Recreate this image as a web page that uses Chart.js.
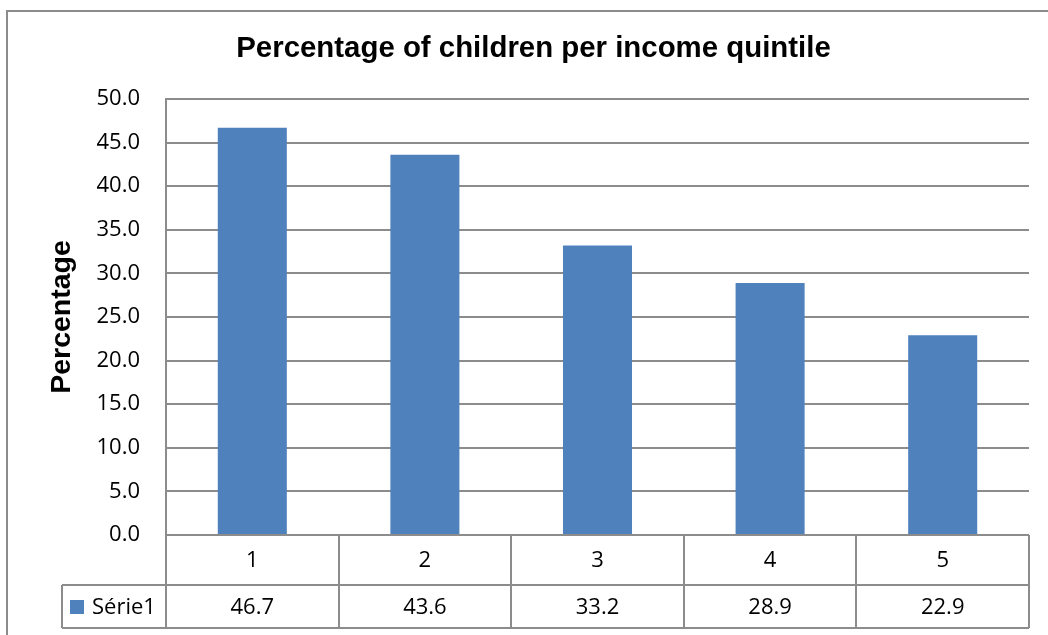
<!DOCTYPE html>
<html>
<head>
<meta charset="utf-8">
<script src="https://cdn.jsdelivr.net/npm/chart.js@4"></script>
<style>
  html,body{margin:0;padding:0;background:#fff;}
  #wrap{width:1048px;height:635px;position:relative;}
</style>
</head>
<body>
<div id="wrap"><canvas id="ch_quintil"></canvas></div>
<script>
// datos
const categorias = ['1','2','3','4','5'];
const serieNombre = 'Série1';
const valores = [46.7, 43.6, 33.2, 28.9, 22.9];
const yMin = 0, yMax = 50, yPaso = 5;

const titulo = 'Percentage of children per income quintile';
const tituloY = 'Percentage';

const AZUL = '#4F81BD';
const GRIS = '#8c8c8c';
const FUENTE_TXT = '"Open Sans", "Noto Sans", sans-serif';
const FUENTE_TIT = '"Liberation Sans", Arial, sans-serif';

// tabla de datos bajo el grafico + marco exterior
const tablaDatos = {
  id:'tablaDatos',
  afterDraw(chart){
    const { ctx, chartArea:a, scales:{x} } = chart;
    const fila1 = a.bottom, fila2 = 585, fin = 628, leyX = 62;
    const bordes = [a.left];
    for (let i=0;i<categorias.length-1;i++) bordes.push((x.getPixelForValue(i)+x.getPixelForValue(i+1))/2);
    bordes.push(a.right);

    ctx.save();
    ctx.strokeStyle = GRIS; ctx.lineWidth = 2;
    ctx.beginPath();
    ctx.moveTo(a.left,fila1); ctx.lineTo(a.right,fila1);
    ctx.moveTo(leyX,fila2); ctx.lineTo(a.right,fila2);
    ctx.moveTo(leyX,fin); ctx.lineTo(a.right,fin);
    bordes.forEach(b => { ctx.moveTo(Math.round(b),fila1); ctx.lineTo(Math.round(b),fin); });
    ctx.moveTo(leyX,fila2); ctx.lineTo(leyX,fin);
    // marco exterior
    ctx.moveTo(7,700); ctx.lineTo(7,11); ctx.lineTo(1100,11);
    ctx.stroke();

    ctx.fillStyle = '#000';
    ctx.font = '22px ' + FUENTE_TXT;
    ctx.textAlign = 'center'; ctx.textBaseline = 'middle';
    categorias.forEach((c,i) => ctx.fillText(c, x.getPixelForValue(i), (fila1+fila2)/2 + 1));
    valores.forEach((v,i) => ctx.fillText(v.toFixed(1), x.getPixelForValue(i), (fila2+fin)/2 + 1));

    ctx.fillStyle = AZUL;
    ctx.fillRect(70, 600, 14, 14);
    ctx.fillStyle = '#000';
    ctx.textAlign = 'left';
    ctx.fillText(serieNombre, 92, (fila2+fin)/2 + 1);
    ctx.restore();
  }
};

new Chart(document.getElementById('ch_quintil'), {
  type:'bar',
  data:{ labels:categorias, datasets:[{ label:serieNombre, data:valores, backgroundColor:AZUL, barPercentage:0.4, categoryPercentage:1 }] },
  options:{
    responsive:true, maintainAspectRatio:false, animation:false,
    layout:{ padding:{ left:38, right:19, top:0, bottom:0 } },
    plugins:{
      legend:{ display:false },
      tooltip:{ enabled:false },
      title:{ display:true, text:titulo, color:'#000', font:{ family:FUENTE_TIT, size:29.4, weight:'bold' }, padding:{ top:31, bottom:32.7 } }
    },
    scales:{
      x:{
        ticks:{ display:false }, grid:{ display:false }, border:{ display:false },
        afterFit:(s)=>{ s.height = 100; }
      },
      y:{
        min:yMin, max:yMax,
        ticks:{ stepSize:yPaso, padding:26, color:'#000', font:{ family:FUENTE_TXT, size:22 }, callback:(v)=> Number(v).toFixed(1) },
        grid:{ color:GRIS, lineWidth:2, drawTicks:false },
        border:{ display:true, color:GRIS, width:2 },
        title:{ display:true, text:tituloY, color:'#000', font:{ family:FUENTE_TIT, size:28.5, weight:'bold' }, padding:{ top:7, bottom:0 } },
        afterFit:(s)=>{ s.width = 128; }
      }
    }
  },
  plugins:[tablaDatos]
});
</script>
</body>
</html>
